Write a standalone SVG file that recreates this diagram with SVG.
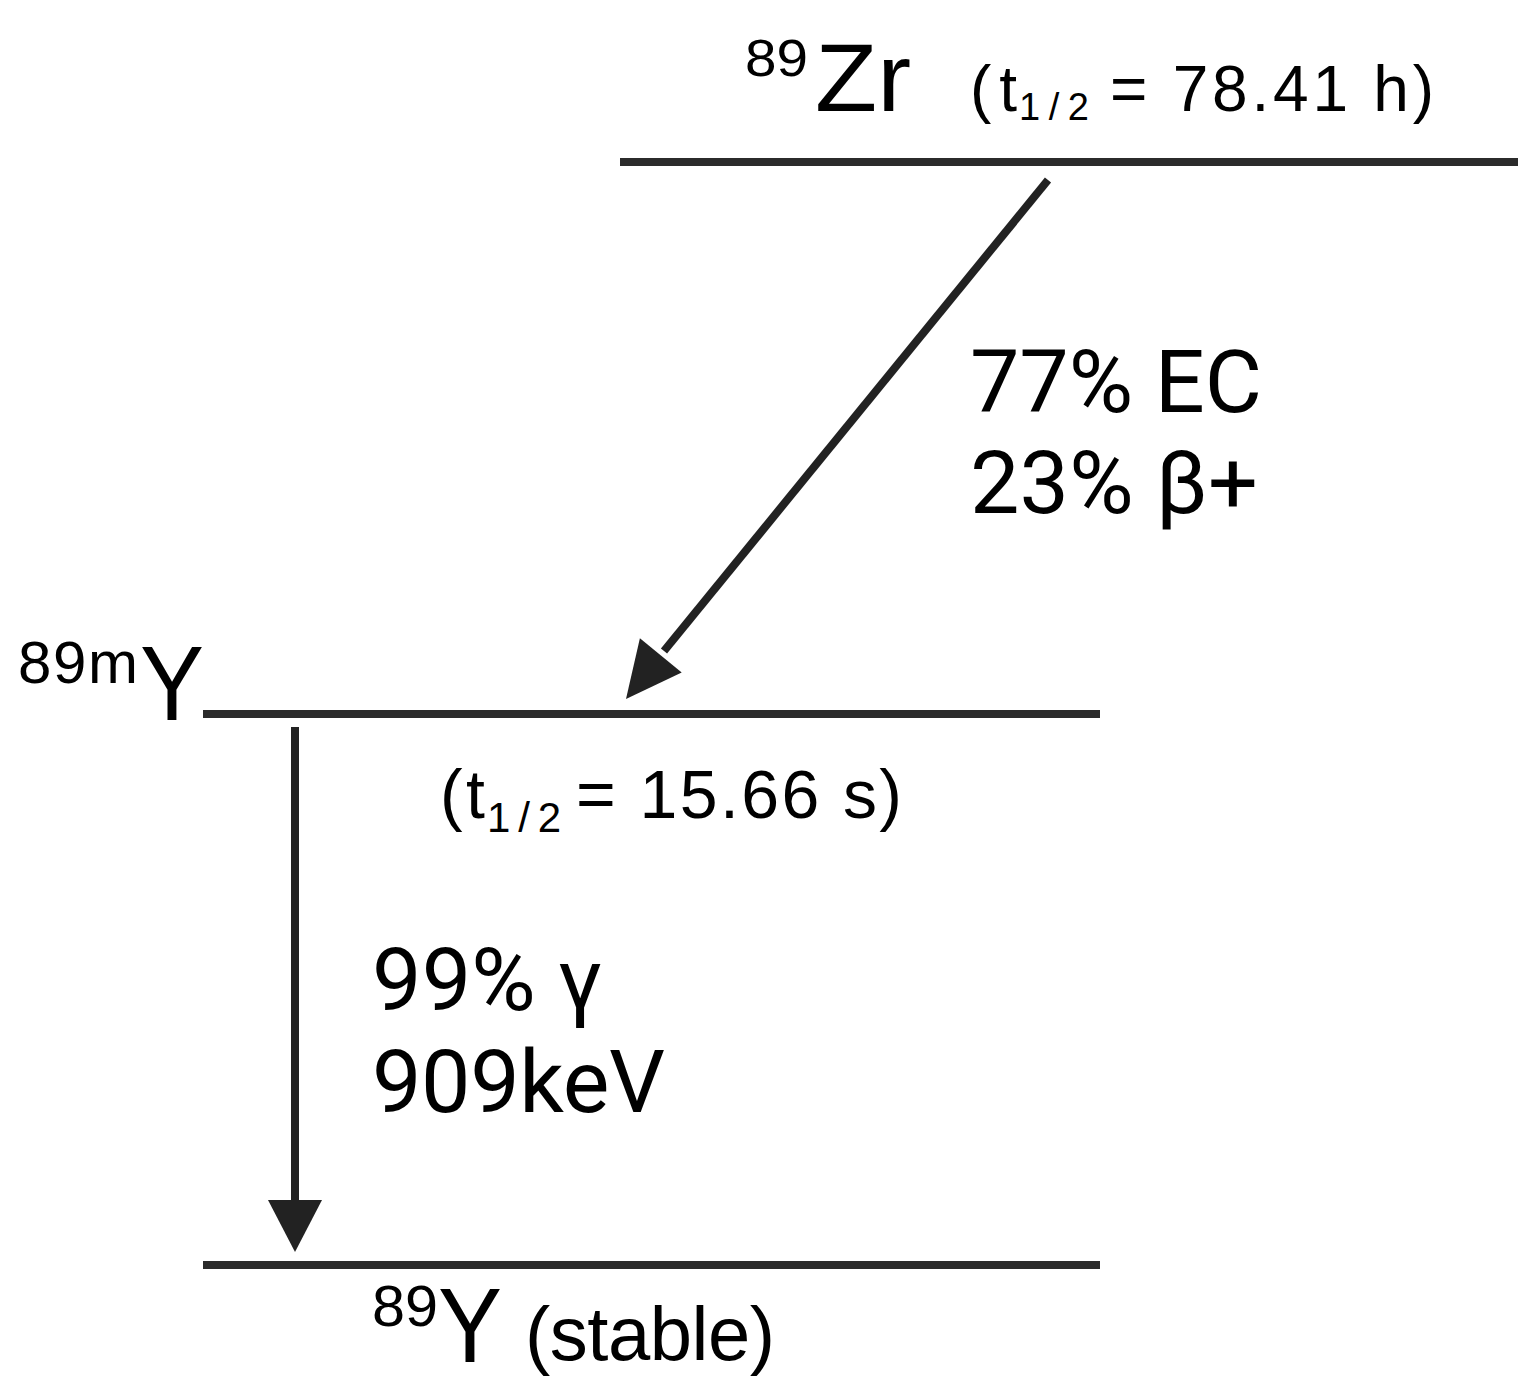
<svg xmlns="http://www.w3.org/2000/svg" width="1540" height="1395" viewBox="0 0 1540 1395">
<style>
text{font-family:"Liberation Sans",Arial,sans-serif;fill:#000}
.lvl{stroke:#2b2b2b;stroke-width:8}
.arr{stroke:#222;stroke-width:8}
.head{fill:#222}
.big{font-family:Roboto,"Liberation Sans",sans-serif;font-size:88px}
</style>
<rect width="1540" height="1395" fill="#fff"/>
<g id="zr89">
<line class="lvl" x1="620" y1="162" x2="1518" y2="162"/>
<text x="745" y="76" font-size="52" textLength="63" lengthAdjust="spacingAndGlyphs">89</text>
<text x="815" y="111" font-size="96" textLength="96" lengthAdjust="spacingAndGlyphs">Zr</text>
<text x="970" y="111" font-size="64" textLength="47" lengthAdjust="spacing">(t</text>
<text x="1019" y="120" font-size="38" textLength="70" lengthAdjust="spacing">1/2</text>
<text x="1110" y="111" font-size="64" textLength="324" lengthAdjust="spacing">= 78.41 h)</text>
</g>
<g id="y89m">
<line class="lvl" x1="203" y1="714" x2="1100" y2="714"/>
<text x="18" y="683" font-size="60" textLength="120" lengthAdjust="spacing">89m</text>
<text x="140" y="720" font-size="106" textLength="64" lengthAdjust="spacingAndGlyphs">Y</text>
<text x="440" y="818" font-size="68" textLength="45" lengthAdjust="spacing">(t</text>
<text x="487" y="832" font-size="42" textLength="74" lengthAdjust="spacing">1/2</text>
<text x="576" y="818" font-size="68" textLength="326" lengthAdjust="spacing">= 15.66 s)</text>
</g>
<g id="y89">
<line class="lvl" x1="203" y1="1265" x2="1100" y2="1265"/>
<text x="372" y="1326" font-size="58" textLength="66" lengthAdjust="spacingAndGlyphs">89</text>
<text x="438" y="1362" font-size="106" textLength="64" lengthAdjust="spacingAndGlyphs">Y</text>
<text x="525" y="1360" font-size="76" textLength="250" lengthAdjust="spacing">(stable)</text>
</g>
<g id="connectors">
<line class="arr" x1="1048" y1="180" x2="664" y2="651"/>
<polygon class="head" points="626,699 681.7,672.5 639.9,638.3"/>
<line class="arr" x1="295" y1="727" x2="295" y2="1205"/>
<polygon class="head" points="268,1200 322,1200 295,1252"/>
<text x="970" y="412" class="big" textLength="292" lengthAdjust="spacing">77% EC</text>
<text x="970" y="513" class="big" textLength="288" lengthAdjust="spacing">23% β+</text>
<text x="372" y="1010" class="big" textLength="230" lengthAdjust="spacing">99% γ</text>
<text x="372" y="1112" class="big" textLength="293" lengthAdjust="spacing">909keV</text>
</g>
</svg>
